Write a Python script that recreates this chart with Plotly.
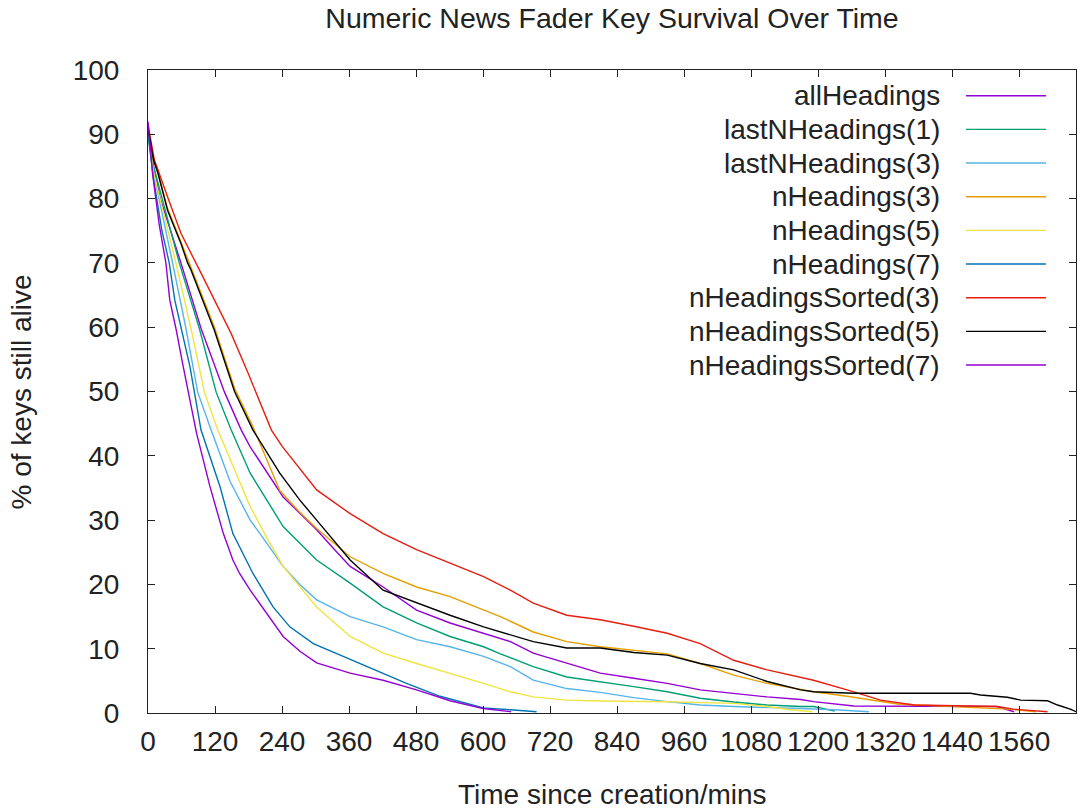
import plotly.graph_objects as go

# ---------------- data ----------------
series_names = [
    "allHeadings", "lastNHeadings(1)", "lastNHeadings(3)", "nHeadings(3)",
    "nHeadings(5)", "nHeadings(7)", "nHeadingsSorted(3)", "nHeadingsSorted(5)",
    "nHeadingsSorted(7)",
]
series_colors = ["#9400d3", "#009e73", "#56b4e9", "#e69f00", "#f0e442",
                 "#0072b2", "#e51e10", "#000000", "#9400d3"]

all_t = [0, 10, 22, 59, 95, 137, 167, 183, 242, 272, 302, 333, 362, 421, 481, 541, 601, 649, 690,
         750, 810, 870, 930, 989, 1049, 1109, 1169, 1192, 1264, 1440, 1520, 1551]
all_v = [91, 85, 80, 70, 59.8, 49.9, 44, 41.4, 33.6, 31, 28.5, 25.5, 22.8, 19.6, 16.0, 14.0, 12.4, 11.1, 9.3,
         7.7, 6.2, 5.4, 4.6, 3.6, 3.06, 2.5, 2.1, 1.76, 1.1, 1.1, 1.0, 0.2]

last1_t = [0, 10, 56, 92, 122, 149, 183, 242, 302, 362, 421, 481, 541, 601, 631, 690, 750,
           810, 870, 930, 989, 1049, 1109, 1169, 1192, 1230]
last1_v = [90, 85, 70, 59.8, 49.9, 44, 37.3, 29, 23.8, 20.2, 16.5, 14.0, 11.9, 10.3, 9.2, 7.2, 5.6,
           4.9, 4.1, 3.3, 2.3, 1.7, 1.24, 1.0, 1.0, 0.3]

last3_t = [0, 10, 44, 68, 89, 113, 147, 183, 212, 242, 272, 302, 362, 421, 481, 541, 601, 649,
           690, 750, 810, 870, 930, 989, 1049, 1109, 1169, 1230, 1291]
last3_v = [90, 84, 70, 59.8, 49.9, 44, 36, 30, 26.5, 22.8, 20.0, 17.6, 15.0, 13.4, 11.4, 10.3, 8.8, 7.2,
           5.1, 3.8, 3.2, 2.4, 1.76, 1.24, 1.0, 0.9, 0.7, 0.5, 0.2]

nh3_t = [0, 10, 18, 35, 59, 74, 119, 155, 188, 236, 272, 302, 333, 362, 421, 481, 541, 601, 631,
         690, 750, 810, 870, 930, 989, 1049, 1109, 1169, 1192, 1252, 1312, 1342, 1440, 1540, 1590]
nh3_v = [91, 86, 84, 78.5, 73.3, 70, 60, 50.5, 44.5, 34.6, 31.2, 28.7, 26.4, 24.3, 21.7, 19.6, 18.1, 16.0, 15.0,
         12.6, 11.1, 10.3, 9.8, 9.2, 7.7, 5.9, 4.6, 3.7, 3.3, 2.6, 1.8, 1.4, 1.0, 0.6, 0.2]

nh5_t = [0, 10, 50, 77, 101, 125, 183, 212, 242, 302, 362, 421, 481, 541, 601, 649, 690, 750,
         810, 930, 1049, 1109, 1150, 1190]
nh5_v = [90, 84, 70, 59.8, 49.9, 44, 32.1, 27.4, 22.8, 16.5, 11.9, 9.3, 7.7, 6.2, 4.6, 3.3, 2.5, 2.0,
         1.87, 1.76, 1.5, 1.0, 0.5, 0.2]

nh7_t = [0, 10, 25, 38, 48, 59, 75, 95, 129, 152, 176, 188, 224, 254, 296, 344, 403, 463, 523,
         570, 601, 649, 696]
nh7_v = [90, 83, 75, 70, 64.2, 59.8, 53.9, 44, 35.2, 27.9, 23.8, 21.7, 16.5, 13.4, 10.8, 9.0, 6.8, 4.6, 2.6,
         1.5, 0.8, 0.5, 0.2]

s3_t = [0, 11.5, 35, 59, 95, 149, 179, 221, 240, 302, 362, 421, 481, 541, 601, 649, 690, 750,
        810, 870, 930, 989, 1049, 1109, 1169, 1192, 1252, 1312, 1372, 1443, 1521, 1550, 1599, 1611]
s3_v = [91.5, 86, 80.3, 74.6, 68.4, 59, 52.9, 44, 41.5, 34.7, 31, 27.9, 25.4, 23.3, 21.2, 19.1, 17.1, 15.2,
        14.5, 13.5, 12.4, 10.8, 8.2, 6.7, 5.6, 5.1, 3.6, 2.0, 1.24, 1.1, 1.0, 0.6, 0.36, 0.2]

s5_t = [0, 10, 18, 35, 59, 71, 77, 119, 155, 188, 236, 272, 302, 362, 421, 481, 541, 601, 649,
        690, 750, 810, 870, 930, 989, 1049, 1109, 1169, 1192, 1264, 1473, 1491, 1539, 1563, 1611,
        1629, 1653, 1662]
s5_v = [91, 86, 83.9, 78.2, 73, 70, 68.9, 59.5, 50, 44, 37.3, 33.1, 30, 23.8, 19.1, 17.1, 15.2, 13.4, 12.1,
        11.1, 10.1, 10.1, 9.4, 9.0, 7.7, 6.7, 4.9, 3.6, 3.3, 3.06, 3.06, 2.8, 2.44, 2.0, 1.9,
        1.24, 0.57, 0.2]

s7_t = [0, 8, 20, 32, 39, 50, 63, 87, 111, 135, 152, 164, 183, 212, 242, 272, 302, 362, 421,
        481, 541, 600, 650]
s7_v = [92, 84, 76, 70, 64.2, 59.8, 53.9, 43.5, 35.2, 27.9, 23.8, 21.7, 19.1, 15.5, 11.9, 9.6, 7.8, 6.2, 5.1,
        3.6, 1.9, 0.7, 0.2]

series_t = [all_t, last1_t, last3_t, nh3_t, nh5_t, nh7_t, s3_t, s5_t, s7_t]
series_v = [all_v, last1_v, last3_v, nh3_v, nh5_v, nh7_v, s3_v, s5_v, s7_v]

x_ticks = list(range(0, 1561, 120))
y_ticks = list(range(0, 101, 10))
x_max = 1662

title_text = "Numeric News Fader Key Survival Over Time"
x_title = "Time since creation/mins"
y_title = "% of keys still alive"

# ---------------- figure ----------------
FONT = "Liberation Sans, Arial, sans-serif"
FS = 28
TXT = "#222"
fig = go.Figure()
for name, col, t, v in zip(series_names, series_colors, series_t, series_v):
    fig.add_trace(go.Scatter(x=t, y=v, mode="lines", name=name,
                             line=dict(color=col, width=1.4), showlegend=False))

# gnuplot-style key: right-aligned text with sample line to its right
key_top = 0.960
key_step = 0.05235
for i, (name, col) in enumerate(zip(series_names, series_colors)):
    yy = key_top - i * key_step
    fig.add_annotation(x=0.8556, y=yy, xref="paper", yref="paper", text=name,
                       showarrow=False, xanchor="right", yanchor="middle",
                       font=dict(family=FONT, size=FS, color=TXT))
    fig.add_shape(type="line", xref="paper", yref="paper", x0=0.8815, x1=0.9677,
                  y0=yy, y1=yy, line=dict(color=col, width=1.4))

fig.add_annotation(x=0.5, y=-0.1275, xref="paper", yref="paper", text=x_title,
                   showarrow=False, xanchor="center", yanchor="middle",
                   font=dict(family=FONT, size=FS, color=TXT))
fig.add_annotation(x=-0.1358, y=0.5, xref="paper", yref="paper", text=y_title,
                   showarrow=False, xanchor="center", yanchor="middle", textangle=-90,
                   font=dict(family=FONT, size=FS, color=TXT))

axis_common = dict(showgrid=False, zeroline=False, showline=True, linecolor="#222",
                   linewidth=1, mirror="ticks", ticks="inside", ticklen=7,
                   tickcolor="#222", tickwidth=1,
                   tickfont=dict(family=FONT, size=FS, color=TXT))
fig.update_xaxes(range=[0, x_max], tickvals=x_ticks, ticktext=[str(v) for v in x_ticks],
                 ticklabelstandoff=3, **axis_common)
fig.update_yaxes(range=[0, 100], tickvals=y_ticks, ticktext=[str(v) for v in y_ticks],
                 ticklabelstandoff=22, **axis_common)

fig.update_layout(
    width=1078, height=812,
    margin=dict(l=148, r=2, t=70, b=99),
    paper_bgcolor="white", plot_bgcolor="white",
    title=dict(text=title_text, x=0.5, xref="paper", y=1 - 18 / 812, yref="container",
               xanchor="center", yanchor="middle",
               font=dict(family=FONT, size=28.5, color=TXT)),
)

fig.write_html("out.html")
